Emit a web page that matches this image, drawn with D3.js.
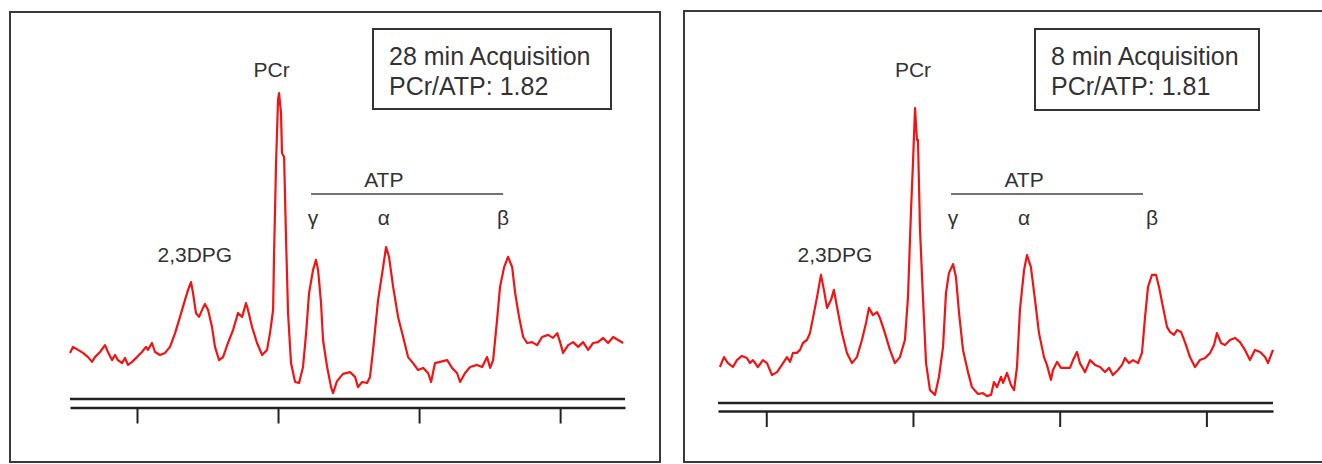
<!DOCTYPE html>
<html>
<head>
<meta charset="utf-8">
<script src="https://cdn.jsdelivr.net/npm/d3@7"></script>
<style>
body { margin: 0; background: #fff; }
svg { display: block; font-family: "Liberation Sans", Arial, sans-serif; }
</style>
</head>
<body>
<div class="canvas"></div>
<script>
// spectra: chemical shift (ppm) and signal (a.u.)
var shift28 = [
    14.75,14.54,14.18,13.83,13.47,13.19,12.98,12.62,12.27,12.06,
    11.77,11.56,11.35,11.06,10.85,10.64,10.35,10.00,9.65,9.36,
    9.22,8.94,8.72,8.37,8.01,7.66,7.30,6.95,6.60,6.38,
    6.17,6.03,5.82,5.60,5.32,5.18,4.96,4.68,4.47,4.18,
    3.90,3.55,3.19,2.84,2.55,2.27,2.13,1.84,1.49,1.13,
    0.78,0.57,0.35,0.28,0.14,0.00,-0.07,-0.21,-0.28,-0.43,
    -0.57,-0.71,-0.92,-1.21,-1.49,-1.77,-1.99,-2.20,-2.48,-2.69,
    -2.84,-3.05,-3.19,-3.48,-3.76,-3.90,-4.18,-4.61,-5.11,-5.46,
    -5.67,-5.96,-6.31,-6.52,-6.74,-7.09,-7.45,-7.66,-7.87,-8.16,
    -8.51,-8.87,-9.22,-9.57,-9.93,-10.28,-10.64,-10.85,-11.13,-11.49,
    -11.99,-12.34,-12.69,-12.91,-13.26,-13.62,-14.11,-14.47,-14.82,-15.04,
    -15.25,-15.53,-15.74,-16.03,-16.31,-16.60,-16.81,-17.09,-17.38,-17.66,
    -18.01,-18.37,-18.72,-19.15,-19.50,-19.79,-20.00,-20.21,-20.57,-20.92,
    -21.28,-21.63,-21.99,-22.34,-22.69,-23.05,-23.40,-23.76,-24.11,-24.47
];
var signal28 = [
    15.7,17.7,16.7,15.7,14.3,12.7,14.3,16.0,18.3,16.0,
    13.3,15.0,13.3,12.3,14.0,11.7,12.7,14.3,16.0,17.7,
    16.7,19.0,16.0,15.0,15.7,17.7,22.3,27.7,33.3,36.7,
    39.3,35.7,29.0,27.7,30.7,32.0,30.0,24.3,17.7,13.3,
    14.3,19.0,23.3,29.0,27.7,32.3,30.0,24.3,19.0,15.0,
    16.7,22.3,30.0,49.0,79.0,100.0,102.3,95.7,82.3,81.0,
    53.3,29.0,12.3,6.0,5.7,11.0,22.3,35.7,43.3,46.7,
    43.3,32.3,20.0,11.0,4.3,2.3,6.3,8.7,9.3,7.7,
    4.3,6.0,5.7,7.7,16.7,33.3,44.3,51.0,47.7,37.7,
    27.7,21.0,14.3,12.3,10.0,10.7,9.0,6.0,12.3,12.7,
    13.3,10.7,9.0,6.0,9.0,11.0,11.7,11.0,14.3,10.7,
    13.3,26.7,37.7,44.3,47.7,44.3,35.7,27.7,21.0,19.0,
    19.3,18.3,21.0,21.7,20.7,22.3,19.3,15.7,18.3,19.3,
    17.7,19.3,16.7,19.0,19.3,20.7,19.0,21.0,20.0,19.0
];
var shift8 = [
    13.16,12.88,12.61,12.27,12.00,11.66,11.32,11.11,10.91,10.57,
    10.23,9.95,9.61,9.27,8.93,8.59,8.38,8.18,7.91,7.70,
    7.50,7.23,7.02,6.82,6.54,6.27,6.07,5.86,5.59,5.39,
    5.18,4.84,4.50,4.16,3.82,3.48,3.20,3.00,2.73,2.45,
    2.25,1.91,1.57,1.23,0.89,0.55,0.34,0.14,0.00,-0.14,
    -0.27,-0.34,-0.48,-0.68,-0.89,-1.16,-1.50,-1.77,-2.05,-2.25,
    -2.45,-2.73,-2.93,-3.14,-3.41,-3.75,-4.02,-4.43,-4.77,-5.04,
    -5.32,-5.52,-5.73,-6.00,-6.14,-6.41,-6.68,-6.89,-7.09,-7.29,
    -7.57,-7.77,-8.04,-8.32,-8.59,-8.93,-9.13,-9.41,-9.54,-9.82,
    -10.09,-10.36,-10.70,-10.91,-11.18,-11.38,-11.73,-12.07,-12.41,-12.75,
    -13.09,-13.36,-13.63,-13.97,-14.25,-14.45,-14.72,-15.00,-15.34,-15.61,
    -15.82,-16.02,-16.29,-16.57,-16.77,-17.04,-17.32,-17.52,-17.79,-18.00,
    -18.27,-18.54,-18.88,-19.22,-19.56,-19.91,-20.25,-20.52,-20.72,-21.00,
    -21.27,-21.61,-21.95,-22.29,-22.63,-22.97,-23.31,-23.66,-24.00,-24.20,
    -24.54
];
var signal8 = [
    12.0,15.3,13.3,12.0,14.3,15.7,15.0,13.3,14.3,12.0,
    14.3,13.3,9.3,10.3,12.7,15.3,13.7,16.7,16.7,17.7,
    20.0,21.0,23.3,28.3,35.3,42.7,37.7,31.7,34.3,37.7,
    32.0,23.3,16.7,13.3,15.3,21.0,26.7,31.7,29.3,30.3,
    28.3,23.3,17.7,13.3,15.3,21.0,35.3,63.3,80.0,98.3,
    87.7,87.7,57.7,35.3,13.3,4.3,2.7,8.7,18.7,36.7,
    43.3,46.3,42.0,30.0,17.7,10.3,5.3,3.0,3.3,2.3,
    2.7,7.0,5.3,8.7,6.7,10.0,6.0,4.3,12.0,31.0,
    44.3,49.3,45.3,34.3,23.3,15.3,12.7,7.7,11.0,13.7,
    11.7,11.7,11.7,14.3,17.0,13.3,10.3,14.3,12.7,12.0,
    10.3,11.7,9.3,11.0,12.7,15.0,13.3,14.3,13.3,16.7,
    28.7,38.7,42.7,42.7,38.7,32.0,25.3,23.7,22.7,24.3,
    23.7,20.3,15.3,12.0,14.3,15.0,16.7,19.3,23.3,20.0,
    19.3,21.0,21.7,20.3,17.7,14.3,17.7,17.0,15.3,13.3,
    17.7
];

// shift axis ticks (unlabelled in the original)
var shiftTicks = [10, 0, -10, -20];

// peak labels and where they sit (ppm)
var peakNames = ['2,3DPG', 'PCr', '\u03b3', '\u03b1', '\u03b2'];
var peakShift28 = [5.9, 0.45, -2.48, -7.5, -15.96];
var peakShift8 = [5.32, 0, -2.73, -7.57, -16.3];
var atpSpan28 = [-2.34, -15.96];
var atpSpan8 = [-2.59, -15.68];

var boxLines28 = ['28 min Acquisition', 'PCr/ATP: 1.82'];
var boxLines8 = ['8 min Acquisition', 'PCr/ATP: 1.81'];

// where does it live
var width = 1322,
    height = 464;

var labelY = [262, 77, 225, 225, 225];

var panels = [
    {
        shift: shift28, signal: signal28, peaks: peakShift28, atp: atpSpan28, lines: boxLines28,
        frame: [10, 12, 650, 450],
        xRange: [70, 625], xDomain: [14.75, -24.6],
        yRange: [400, 100],
        axisY: 407.5, upperY: 399,
        box: [373, 29, 238, 80], textX: 389
    },
    {
        shift: shift8, signal: signal8, peaks: peakShift8, atp: atpSpan8, lines: boxLines8,
        frame: [684, 11, 660, 451],
        xRange: [718, 1273], xDomain: [13.29, -24.54],
        yRange: [403, 103],
        axisY: 411, upperY: 403,
        box: [1035, 29, 224, 81], textX: 1051
    }
];

var svg = d3.select('.canvas').append('svg')
    .attr('width', width)
    .attr('height', height);

panels.forEach(function (p) {
    var x = d3.scaleLinear().domain(p.xDomain).range(p.xRange),
        y = d3.scaleLinear().domain([0, 100]).range(p.yRange);

    var g = svg.append('g');

    // outer frame
    g.append('rect')
        .attr('x', p.frame[0])
        .attr('y', p.frame[1])
        .attr('width', p.frame[2])
        .attr('height', p.frame[3])
        .attr('fill', 'none')
        .attr('stroke', '#3a3a3a')
        .attr('stroke-width', 2);

    // double baseline + ticks
    g.append('line')
        .attr('x1', x.range()[0])
        .attr('x2', x.range()[1])
        .attr('y1', p.upperY)
        .attr('y2', p.upperY)
        .attr('stroke', '#222')
        .attr('stroke-width', 2.5);

    var axis = g.append('g')
        .attr('transform', 'translate(0,' + p.axisY + ')')
        .call(d3.axisBottom(x)
            .tickValues(shiftTicks)
            .tickSizeInner(16)
            .tickSizeOuter(0)
            .tickFormat(''));
    axis.select('.domain')
        .attr('stroke', '#222')
        .attr('stroke-width', 2.5);
    axis.selectAll('.tick line')
        .attr('stroke', '#222')
        .attr('stroke-width', 2);

    // the spectrum
    var line = d3.line()
        .x(function (d) { return x(d[0]); })
        .y(function (d) { return y(d[1]); });

    g.append('path')
        .datum(d3.zip(p.shift, p.signal))
        .attr('d', line)
        .attr('fill', 'none')
        .attr('stroke', '#f01414')
        .attr('stroke-width', 2.2)
        .attr('stroke-linejoin', 'round');

    // peak names
    g.selectAll('text.peak')
        .data(peakNames)
        .enter()
        .append('text')
        .attr('class', 'peak')
        .attr('x', function (d, i) { return x(p.peaks[i]); })
        .attr('y', function (d, i) { return labelY[i]; })
        .attr('text-anchor', 'middle')
        .attr('font-size', 21)
        .attr('fill', '#333')
        .text(function (d) { return d; });

    // ATP bracket
    g.append('line')
        .attr('x1', x(p.atp[0]))
        .attr('x2', x(p.atp[1]))
        .attr('y1', 194)
        .attr('y2', 194)
        .attr('stroke', '#444')
        .attr('stroke-width', 1.5);
    g.append('text')
        .attr('x', x(p.peaks[3]))
        .attr('y', 187)
        .attr('text-anchor', 'middle')
        .attr('font-size', 21)
        .attr('fill', '#333')
        .text('ATP');

    // info box
    g.append('rect')
        .attr('x', p.box[0])
        .attr('y', p.box[1])
        .attr('width', p.box[2])
        .attr('height', p.box[3])
        .attr('fill', '#fff')
        .attr('stroke', '#333')
        .attr('stroke-width', 2);
    g.selectAll('text.info')
        .data(p.lines)
        .enter()
        .append('text')
        .attr('class', 'info')
        .attr('x', p.textX)
        .attr('y', function (d, i) { return 65 + i * 30; })
        .attr('font-size', 25)
        .attr('fill', '#333')
        .text(function (d) { return d; });
});
</script>
</body>
</html>
